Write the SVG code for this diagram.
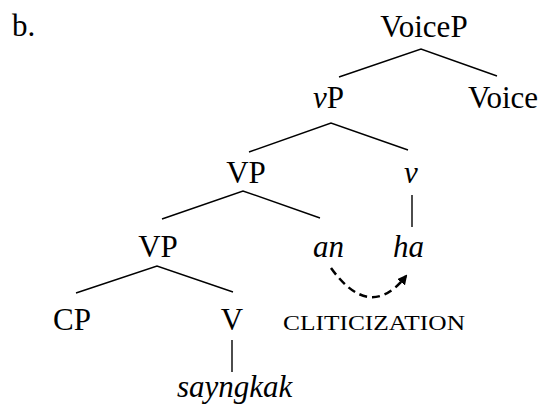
<svg xmlns="http://www.w3.org/2000/svg" width="543" height="410" viewBox="0 0 543 410">
<style>
text{font-family:"Liberation Serif","Times New Roman",serif;font-size:31px;fill:#000}
.i{font-style:italic}
.m{text-anchor:middle}
.sc{font-size:22px}
.e{stroke:#000;stroke-width:1.4;fill:none}
.d{stroke:#000;stroke-width:2.5;fill:none;stroke-dasharray:8 5}
</style>
<defs>
<marker id="ah" viewBox="0 0 10 10" refX="8" refY="5" markerWidth="4" markerHeight="4" orient="auto" markerUnits="strokeWidth">
<path d="M0 0L10 5L0 10z" fill="#000"/>
</marker>
</defs>
<rect width="543" height="410" fill="#fff"/>
<text x="12" y="36">b.</text>
<g id="connectors">
<path class="e" d="M339 77L421 49L497 76"/>
<path class="e" d="M249 152L331 123L408 150"/>
<path class="e" d="M162 219L243 191L320 218"/>
<path class="e" d="M76 293L157 266L233 292"/>
<path class="e" d="M412 195V227"/>
<path class="e" d="M232 340V372"/>
<path class="d" d="M331 268Q370 322 406 276" marker-end="url(#ah)"/>
</g>
<g id="VoiceP"><text class="m" x="424" y="37">VoiceP</text></g>
<g id="vP"><text x="313" y="108"><tspan class="i">v</tspan>P</text></g>
<g id="Voice"><text x="468" y="108">Voice</text></g>
<g id="VP1"><text class="m" x="246" y="183">VP</text></g>
<g id="v"><text class="m i" x="411" y="183">v</text></g>
<g id="VP2"><text class="m" x="158" y="257">VP</text></g>
<g id="an"><text class="i" x="313" y="257">an</text></g>
<g id="ha"><text class="i" x="393" y="257">ha</text></g>
<g id="CP"><text x="53" y="330">CP</text></g>
<g id="V"><text class="m" x="232" y="330">V</text></g>
<g id="cliticization"><text class="sc" x="283" y="330" textLength="182" lengthAdjust="spacingAndGlyphs">CLITICIZATION</text></g>
<g id="sayngkak"><text class="i" x="177" y="397">sayngkak</text></g>
</svg>
